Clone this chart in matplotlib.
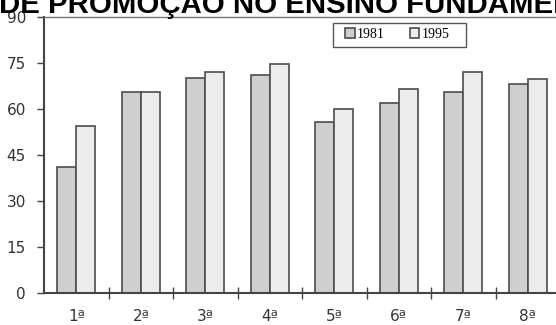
import numpy as np
import matplotlib.pyplot as plt
from matplotlib.patches import Rectangle

series = ["1ª", "2ª", "3ª", "4ª", "5ª", "6ª", "7ª", "8ª"]
taxa_1981 = [41, 65.6, 70, 71, 55.7, 62, 65.6, 68]
taxa_1995 = [54.5, 65.6, 72, 74.7, 60, 66.6, 72, 69.8]

fig = plt.figure(figsize=(5.56, 3.25), dpi=100)
ax = fig.add_axes([44/556, (325-292.7)/325, (560-44)/556, (292.7-17)/325])

x = np.arange(len(series))
w = 0.295
ax.bar(x - w/2, taxa_1981, w, color="#cfcfcf", edgecolor="#4d4d4d", linewidth=1.2, label="1981")
ax.bar(x + w/2, taxa_1995, w, color="#ececec", edgecolor="#4d4d4d", linewidth=1.2, label="1995")

ax.set_xlim(-0.5, len(series) - 0.5)
ax.set_ylim(0, 90)
ax.set_yticks(range(0, 91, 15))
ax.tick_params(axis="y", direction="out", length=5, width=1, color="#444444",
               labelsize=11, labelcolor="#333333", pad=8)

# category separators crossing the baseline
ax.set_xticks(np.arange(0.5, len(series) - 0.5, 1))
ax.set_xticklabels([])
ax.tick_params(axis="x", direction="inout", length=9, width=1, color="#444444")
for i, s in enumerate(series):
    ax.text(i, -0.085, s, transform=ax.get_xaxis_transform(), ha="center", va="center",
            fontsize=11, color="#333333")

for side in ["left", "bottom"]:
    ax.spines[side].set_color("#444444")
    ax.spines[side].set_linewidth(1.5)
ax.spines["top"].set_color("#777777")
ax.spines["top"].set_linewidth(1)
ax.spines["right"].set_visible(False)

# legend box drawn separately so its size can be set freely
AW, AH = 516, 275.7
ax.add_patch(Rectangle(((333-44)/AW, 1 - (47-17)/AH), 133/AW, 24/AH,
                       transform=ax.transAxes, facecolor="white",
                       edgecolor="#555555", linewidth=1, zorder=4))
leg = ax.legend(loc="upper left", bbox_to_anchor=((345-44)/AW, 1 - (28-17)/AH), ncol=2,
                frameon=False, prop={"family": "Liberation Serif", "size": 10},
                handlelength=0.7, handleheight=0.7, handletextpad=0.15,
                columnspacing=1.8, borderpad=0, borderaxespad=0)
leg.set_zorder(5)

fig.text(-0.002, 1 - 13/325, "DE PROMOÇÃO NO ENSINO FUNDAMENTAL", fontsize=21.2,
         fontweight="bold", family="Liberation Sans", va="baseline", ha="left")

fig.savefig("out.png", dpi=100)
